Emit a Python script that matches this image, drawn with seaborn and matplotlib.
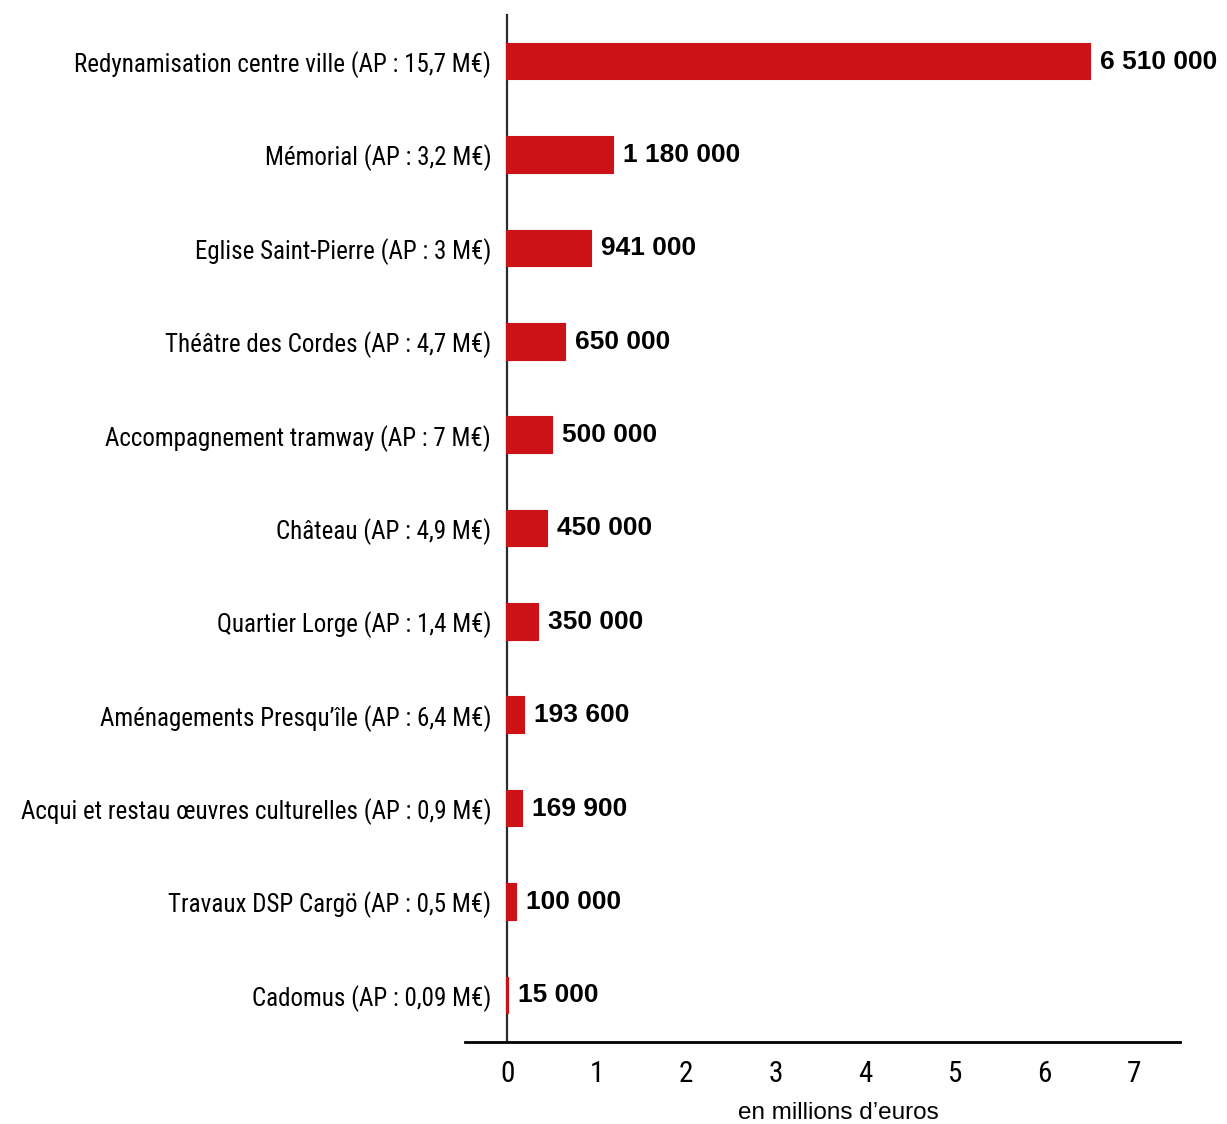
import pandas as pd
import seaborn as sns
import matplotlib.pyplot as plt

projects = [
    "Redynamisation centre ville (AP : 15,7 M€)",
    "Mémorial (AP : 3,2 M€)",
    "Eglise Saint-Pierre (AP : 3 M€)",
    "Théâtre des Cordes (AP : 4,7 M€)",
    "Accompagnement tramway (AP : 7 M€)",
    "Château (AP : 4,9 M€)",
    "Quartier Lorge (AP : 1,4 M€)",
    "Aménagements Presqu’île (AP : 6,4 M€)",
    "Acqui et restau œuvres culturelles (AP : 0,9 M€)",
    "Travaux DSP Cargö (AP : 0,5 M€)",
    "Cadomus (AP : 0,09 M€)",
]
amounts = [6510000, 1180000, 941000, 650000, 500000, 450000, 350000, 193600, 169900, 100000, 15000]
x_ticks = [0, 1, 2, 3, 4, 5, 6, 7]

df = pd.DataFrame({"projet": projects, "montant": amounts})
df["millions"] = df["montant"] / 1e6

narrow = ["Roboto Condensed", "DejaVu Sans"]
regular = ["Liberation Sans", "DejaVu Sans"]

sns.set_style("white")
plt.rcParams["font.family"] = regular

red = "#cc1117"

fig = plt.figure(figsize=(12.27, 11.24), dpi=100)
ax = fig.add_axes([465 / 1227, 1 - 1042 / 1124, (1180 - 465) / 1227, (1042 - 15) / 1124])

sns.barplot(data=df, x="millions", y="projet", orient="h", color=red,
            saturation=1, width=0.38, edgecolor=red, linewidth=1.5, ax=ax)

ax.set_xlim(-0.47, 7.51)
ax.set_ylim(10.5, -0.5)

# axe vertical sur le zéro, axe du bas noir
for sp in ["top", "right"]:
    ax.spines[sp].set_visible(False)
ax.spines["left"].set_position(("data", 0))
ax.spines["left"].set_color("#2b2b2b")
ax.spines["left"].set_linewidth(1.6)
ax.spines["left"].set_zorder(0)
ax.spines["bottom"].set_color("black")
ax.spines["bottom"].set_linewidth(2)

ax.set_xticks(x_ticks)
ax.set_xticklabels([str(t) for t in x_ticks], family=narrow, fontsize=21, color="black")
ax.tick_params(axis="x", length=7, width=1.3, color="black", pad=6)
ax.tick_params(axis="y", length=0, pad=11.5)
ax.set_yticks(range(len(projects)))
ax.set_yticklabels(projects, family=narrow, fontsize=18, color="black")
ax.set_ylabel("")
ax.set_xlabel("en millions d’euros", fontsize=17.5, color="black")
ax.xaxis.set_label_coords((838 - 465) / (1180 - 465), -0.058)

labels = [f"{v:,}".replace(",", " ") for v in amounts]
ax.bar_label(ax.containers[0], labels=labels, padding=7, fontsize=19,
             fontweight="bold", color="black")

fig.savefig("out.png", dpi=100)
